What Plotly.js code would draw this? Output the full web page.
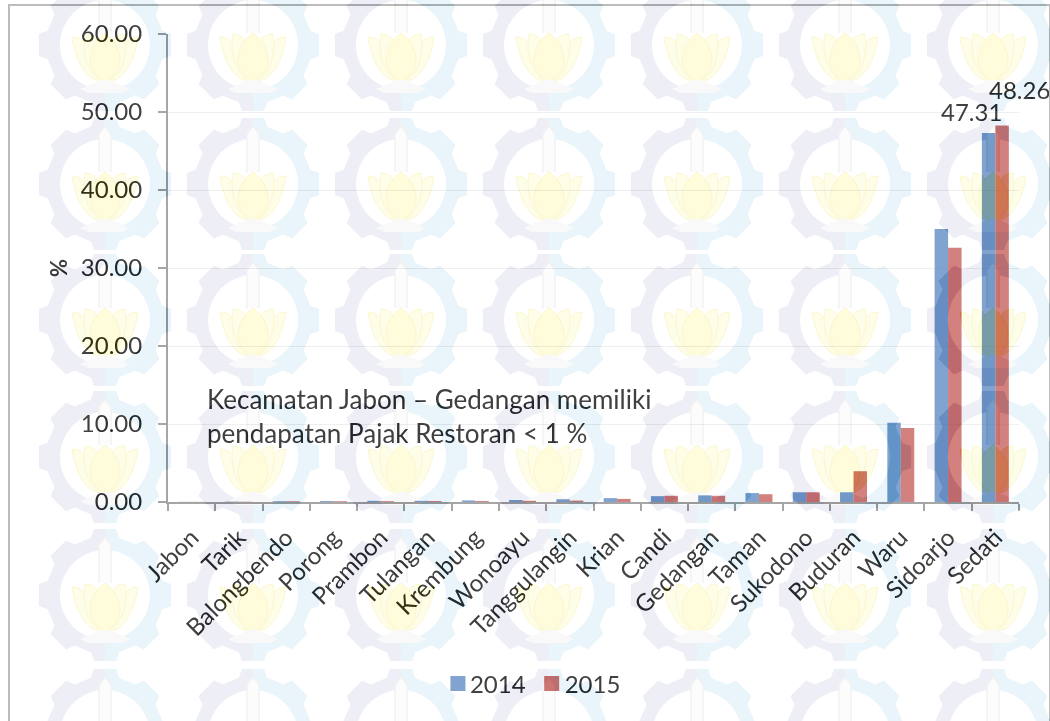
<!DOCTYPE html>
<html>
<head>
<meta charset="utf-8">
<script src="https://cdn.plot.ly/plotly-3.0.1.min.js"></script>
<style>
html,body{margin:0;padding:0;background:#fff;width:1050px;height:721px;overflow:hidden}
#chart{position:absolute;left:0;top:0;width:1050px;height:721px}
.wm{position:absolute;left:0;top:0;pointer-events:none}
#wmBurn{mix-blend-mode:color-burn;filter:brightness(0.94)}
#wm{mix-blend-mode:multiply}
#frame{position:absolute;left:8px;top:4px;width:1039px;height:800px;border:2px solid #bcbcbc;pointer-events:none}
</style>
</head>
<body>
<div id="chart"></div>
<div id="frame"></div>
<svg id="wmBurn" class="wm" width="1050" height="721" viewBox="0 0 1050 721"></svg>
<svg id="wm" class="wm" width="1050" height="721" viewBox="0 0 1050 721"></svg>
<script>
const categories = ["Jabon","Tarik","Balongbendo","Porong","Prambon","Tulangan","Krembung","Wonoayu","Tanggulangin","Krian","Candi","Gedangan","Taman","Sukodono","Buduran","Waru","Sidoarjo","Sedati"];
const values2014 = [0.02,0.05,0.10,0.12,0.15,0.15,0.20,0.25,0.35,0.50,0.75,0.85,1.15,1.25,1.25,10.15,35.00,47.31];
const values2015 = [0.02,0.03,0.10,0.10,0.10,0.12,0.12,0.15,0.18,0.40,0.80,0.80,1.00,1.25,3.95,9.50,32.60,48.26];
const yTicks = [0,10,20,30,40,50,60];
const noteText = "Kecamatan Jabon – Gedangan memiliki<br>pendapatan Pajak Restoran &lt; 1 %";

const font = "Lato, 'Open Sans', sans-serif";
const ink = "#404040";

// watermark logo
function gearPath(){
  const n=8, R=67, r=59; let d="";
  for(let i=0;i<n;i++){
    const a=i*2*Math.PI/n-Math.PI/2, w=Math.PI/n;
    const pts=[[r,a-w*0.62],[R,a-w*0.42],[R,a+w*0.42],[r,a+w*0.62]];
    pts.forEach((p,k)=>{d+=(i===0&&k===0?"M":"L")+(p[0]*Math.cos(p[1])).toFixed(1)+","+(p[0]*Math.sin(p[1])).toFixed(1);});
  }
  return d+"Z";
}
function logoDefs(pre){ return `
<defs>
<clipPath id="${pre}lh"><rect x="-70" y="-70" width="70" height="140"/></clipPath>
<clipPath id="${pre}rh"><rect x="0" y="-70" width="70" height="140"/></clipPath>
<mask id="${pre}ring" maskUnits="userSpaceOnUse" x="-70" y="-70" width="140" height="140"><rect x="-70" y="-70" width="140" height="140" fill="#fff"/><circle r="45" fill="#000"/></mask>
<g id="${pre}logo">
 <g mask="url(#${pre}ring)">
  <path d="${gearPath()}" fill="#eeeef6" clip-path="url(#${pre}lh)"/>
  <path d="${gearPath()}" fill="#e9f5fa" clip-path="url(#${pre}rh)"/>
 </g>
 <path d="M-6,-12V-50L0,-58L6,-50V-12" fill="#fcfcfc" stroke="#f2f2f2" stroke-width="1.5"/>
 <path d="M-33,-8C-24,-8 -20,-2 -16,2C-18,12 -14,26 -6,36C-20,34 -30,14 -33,-8Z" fill="#fefde8" stroke="#fbf7cf" stroke-width="1"/>
 <path d="M33,-8C24,-8 20,-2 16,2C18,12 14,26 6,36C20,34 30,14 33,-8Z" fill="#fefde8" stroke="#fbf7cf" stroke-width="1"/>
 <path d="M-20,-11C-14,-11 -10,-8 -8,-5C-14,10 -10,26 -2,36C-14,32 -24,14 -20,-11Z" fill="#fefde8" stroke="#fbf7cf" stroke-width="1"/>
 <path d="M20,-11C14,-11 10,-8 8,-5C14,10 10,26 2,36C14,32 24,14 20,-11Z" fill="#fefde8" stroke="#fbf7cf" stroke-width="1"/>
 <path d="M0,-12C10,-5 15,6 15,14C15,25 8,32 0,37C-8,32 -15,25 -15,14C-15,6 -10,-5 0,-12Z" fill="#fefcda" stroke="#fbf7cf" stroke-width="1"/>
 <path d="M-25,44L-4,35H4L25,44L17,48H-17Z" fill="#f9f9f9"/>
</g>
</defs>`;}
const logoCols = [105,253,401,549,697,845,993];
const logoRows = [45,184,320,457,595,735];
function fillWatermark(id,pre){
  let uses = "";
  logoRows.forEach(y=>logoCols.forEach(x=>{uses+=`<use href="#${pre}logo" x="${x}" y="${y}"/>`;}));
  document.getElementById(id).innerHTML = logoDefs(pre)+uses;
}
fillWatermark("wm","a");
fillWatermark("wmBurn","b");

const barCommon = {type:"bar",x:categories,hoverinfo:"x+y"};
const data = [
  Object.assign({},barCommon,{name:"2014",y:values2014,marker:{color:"rgba(79,129,189,0.72)",line:{width:0}}}),
  Object.assign({},barCommon,{name:"2015",y:values2015,marker:{color:"rgba(192,80,77,0.72)",line:{width:0}}})
];
const last = categories.length-1;
const layout = {
  width:1050,height:721,
  margin:{l:168,r:31,t:34,b:10,pad:0},
  paper_bgcolor:"rgba(0,0,0,0)",plot_bgcolor:"rgba(0,0,0,0)",
  font:{family:font,color:ink,size:24},
  barmode:"group",bargap:0.43,bargroupgap:0,
  showlegend:true,
  legend:{orientation:"h",x:0.43,xanchor:"center",y:0.04,yanchor:"middle",font:{family:font,size:24,color:ink},itemwidth:30,bgcolor:"rgba(0,0,0,0)",traceorder:"normal"},
  xaxis:{type:"category",categoryorder:"array",categoryarray:categories,range:[-0.5,17.5],tickangle:-45,tickson:"boundaries",ticks:"outside",ticklen:7,tickwidth:2,tickcolor:"#a6a6a6",showline:true,linecolor:"#a6a6a6",linewidth:2,showgrid:false,tickfont:{family:font,size:24,color:ink},ticklabelstandoff:10,automargin:false},
  yaxis:{domain:[0.3087,1],range:[0,60],tickvals:yTicks,ticktext:yTicks.map(v=>v.toFixed(2)),ticks:"outside",ticklen:8,tickwidth:2,tickcolor:"#a6a6a6",showline:true,linecolor:"#a6a6a6",linewidth:2,gridcolor:"#efefef",gridwidth:1,zeroline:false,tickfont:{family:font,size:24,color:ink},ticklabelstandoff:11,automargin:false,
    title:{text:"<b>%</b>",font:{family:font,size:22,color:ink},standoff:7}},
  annotations:[
    {xref:"x",yref:"y",x:categories[last],y:values2014[last],text:values2014[last].toFixed(2),showarrow:false,xshift:-24,yshift:5,yanchor:"bottom",font:{family:font,size:24,color:ink}},
    {xref:"x",yref:"y",x:categories[last],y:values2015[last],text:values2015[last].toFixed(2),showarrow:false,xshift:24,yshift:20,yanchor:"bottom",font:{family:font,size:24,color:ink}},
    {xref:"paper",yref:"paper",x:0.0435,y:0.4357,xanchor:"left",yanchor:"middle",align:"left",showarrow:false,text:noteText,font:{family:font,size:26,color:ink}}
  ]
};
const swatchShift = [5,-2];
const labelShift = [-3,-9];
Plotly.newPlot("chart",data,layout,{displayModeBar:false,responsive:false}).then(()=>{
  // square, larger legend swatches sitting closer to their labels
  document.querySelectorAll(".legend .legendpoints path").forEach((p,i)=>{
    const d=swatchShift[i]||0;
    p.setAttribute("d",`M${7.5+d},7.5H${-7.5+d}V-7.5H${7.5+d}Z`);
  });
  document.querySelectorAll(".legend .legendtext").forEach((t,i)=>{
    t.setAttribute("transform",`translate(${labelShift[i]},0)`);
  });
});
</script>
</body>
</html>
